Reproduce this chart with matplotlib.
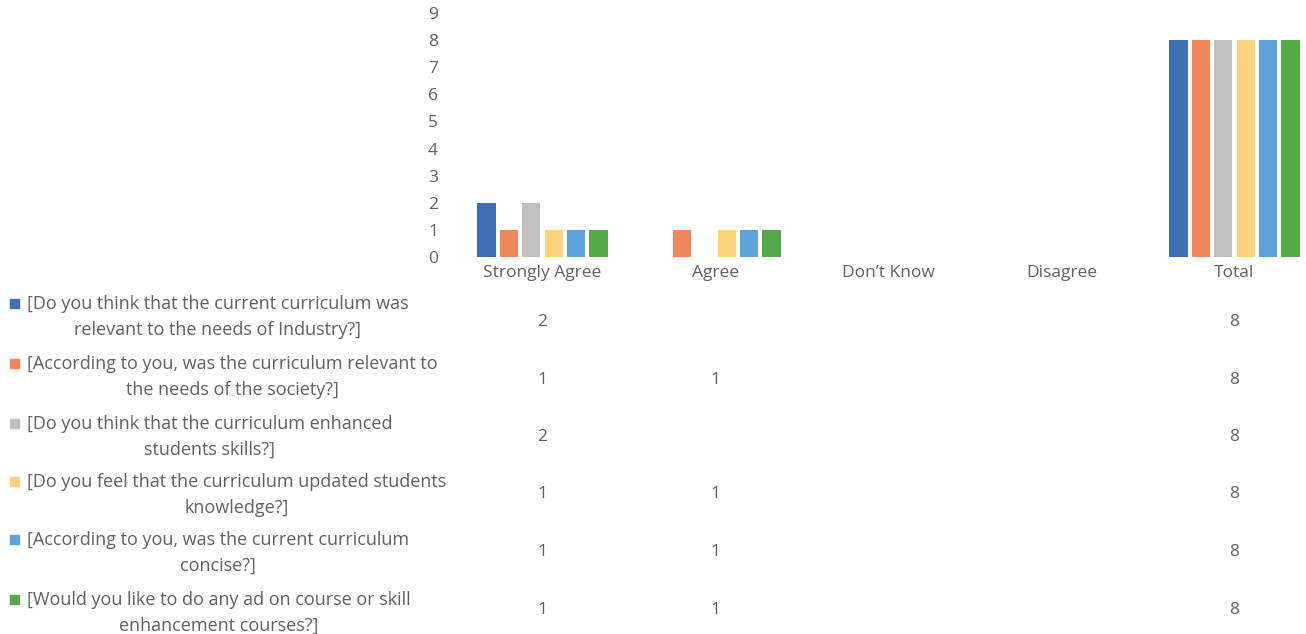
import numpy as np
import matplotlib
matplotlib.use("Agg")
import matplotlib.pyplot as plt
from matplotlib.patches import Rectangle

nan = np.nan
categories = ["Strongly Agree", "Agree", "Don’t Know", "Disagree", "Total"]
labels = [
    "[Do you think that the current curriculum was\nrelevant to the needs of Industry?]",
    "[According to you, was the curriculum relevant to\nthe needs of the society?]",
    "[Do you think that the curriculum enhanced\nstudents skills?]",
    "[Do you feel that the curriculum updated students\nknowledge?]",
    "[According to you, was the current curriculum\nconcise?]",
    "[Would you like to do any ad on course or skill\nenhancement courses?]",
]
industry = [2, nan, nan, nan, 8]
society = [1, 1, nan, nan, 8]
skills = [2, nan, nan, nan, 8]
knowledge = [1, 1, nan, nan, 8]
concise = [1, 1, nan, nan, 8]
addon = [1, 1, nan, nan, 8]
series = [industry, society, skills, knowledge, concise, addon]
colors = ["#3e6fb5", "#f0875a", "#c0c0c0", "#fdd27a", "#5ea4dc", "#55aa4a"]

plt.rcParams["font.family"] = ["Open Sans", "DejaVu Sans"]
txt = "#606060"
fs = 12.5

W, H = 1306, 634
fig = plt.figure(figsize=(W / 100, H / 100), dpi=100)
ax = fig.add_axes([456 / W, 1 - 257 / H, 865 / W, 244 / H])

x = np.arange(len(categories))
pitch = 0.1295
for i, (vals, c) in enumerate(zip(series, colors)):
    ax.bar(x + (i - 2.5) * pitch, np.nan_to_num(vals), width=0.105, color=c)

ax.set_xlim(-0.5, 4.5)
ax.set_ylim(0, 9)
ax.set_yticks(range(10))
ax.set_xticks(x)
ax.set_xticklabels(categories)
ax.tick_params(length=0, colors=txt, labelsize=fs)
ax.tick_params(axis="y", pad=13)
ax.tick_params(axis="x", pad=6)
for s in ax.spines.values():
    s.set_visible(False)

# data table below the chart
label_y = [303, 363, 423, 481, 539, 599]
value_y = [322, 380, 437, 494, 552, 610]
for lab, ly, vy, vals, c in zip(labels, label_y, value_y, series, colors):
    fig.text(27 / W, 1 - (ly - 8) / H, lab, ha="left", va="top",
             multialignment="center", fontsize=13, color=txt, linespacing=1.55)
    fig.patches.append(Rectangle((10 / W, 1 - (ly + 5) / H), 9 / W, 9 / H,
                                 transform=fig.transFigure, color=c))
    for xi, v in zip(x, vals):
        if not np.isnan(v):
            ax.text(xi, -(vy - 257) / 244, str(int(v)), ha="center", va="center",
                    fontsize=fs, color=txt, transform=ax.get_xaxis_transform(),
                    clip_on=False)

fig.savefig("out.png", dpi=100)
